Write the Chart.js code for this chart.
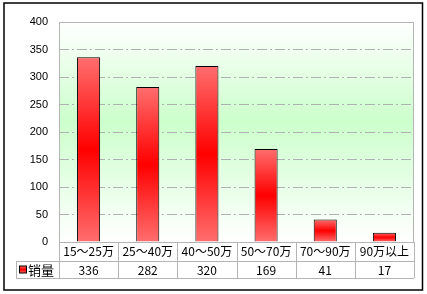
<!DOCTYPE html>
<html>
<head>
<meta charset="utf-8">
<script src="https://cdn.jsdelivr.net/npm/chart.js@4"></script>
<style>
  body { margin: 0; background: #fff; }
  #wrap { width: 427px; height: 294px; }
</style>
</head>
<body>
<div id="wrap"><canvas id="chart" width="427" height="294"></canvas></div>
<script>
// data
const categories = ['15～25万', '25～40万', '40～50万', '50～70万', '70～90万', '90万以上'];
const sales = [336, 282, 320, 169, 41, 17];
const seriesName = '销量';
const yTicks = [0, 50, 100, 150, 200, 250, 300, 350, 400];

const FONT = '"Noto Sans CJK SC", "Liberation Sans", sans-serif';

// plot background + frame, data table below and outer border
const decorations = {
  id: 'decorations',
  beforeDraw(chart) {
    const { ctx, chartArea: a } = chart;
    ctx.save();
    ctx.fillStyle = '#fff';
    ctx.fillRect(0, 0, chart.width, chart.height);
    const g = ctx.createLinearGradient(0, a.top, 0, a.bottom);
    g.addColorStop(0, '#ffffff');
    g.addColorStop(0.45, '#ccffcc');
    g.addColorStop(1, '#ffffff');
    ctx.fillStyle = g;
    ctx.fillRect(a.left, a.top, a.right - a.left, a.bottom - a.top);
    ctx.restore();
  },
  afterDraw(chart) {
    const { ctx, chartArea: a } = chart;
    const x = chart.scales.x;
    const rowTop = a.bottom;
    const rowMid = x.bottom;
    const rowBot = rowMid + 17;
    const legLeft = 16;
    ctx.save();
    ctx.strokeStyle = '#b4b4b4';
    ctx.lineWidth = 1;
    // plot frame
    ctx.strokeRect(a.left + 0.5, a.top + 0.5, a.right - a.left - 1, a.bottom - a.top);
    ctx.beginPath();
    ctx.moveTo(a.left, Math.round(rowTop) + 0.5); ctx.lineTo(a.right, Math.round(rowTop) + 0.5);
    ctx.moveTo(legLeft, Math.round(rowMid) + 0.5); ctx.lineTo(a.right, Math.round(rowMid) + 0.5);
    ctx.moveTo(legLeft, Math.round(rowBot) + 0.5); ctx.lineTo(a.right, Math.round(rowBot) + 0.5);
    ctx.moveTo(legLeft + 0.5, rowMid); ctx.lineTo(legLeft + 0.5, rowBot);
    const step = (a.right - a.left) / categories.length;
    for (let i = 0; i <= categories.length; i++) {
      const px = Math.round(a.left + i * step) + 0.5;
      ctx.moveTo(px, rowTop); ctx.lineTo(px, rowBot);
    }
    ctx.stroke();

    // values row
    ctx.fillStyle = '#000';
    ctx.font = '12px ' + FONT;
    ctx.textAlign = 'center';
    ctx.textBaseline = 'middle';
    sales.forEach((v, i) => {
      ctx.fillText(String(v), x.getPixelForValue(i), (rowMid + rowBot) / 2 + 1);
    });

    // legend key
    const ky = (rowMid + rowBot) / 2;
    const kg = ctx.createLinearGradient(0, ky - 4, 0, ky + 4);
    kg.addColorStop(0, '#ff7272');
    kg.addColorStop(0.5, '#ff0000');
    kg.addColorStop(1, '#ff7272');
    ctx.fillStyle = kg;
    ctx.fillRect(19.5, ky - 3.5, 7, 7);
    ctx.strokeStyle = '#000';
    ctx.strokeRect(19.5, ky - 3.5, 7, 7);
    ctx.fillStyle = '#000';
    ctx.textAlign = 'left';
    ctx.font = '13px ' + FONT;
    ctx.fillText(seriesName, 28, ky + 1);

    // outer border
    ctx.strokeStyle = '#000';
    ctx.lineWidth = 1.5;
    ctx.strokeRect(4, 3, 418.5, 287);
    ctx.restore();
  }
};

function barGradient(c) {
  const chart = c.chart;
  if (!chart.chartArea || c.raw === undefined) return '#ff0000';
  const y = chart.scales.y;
  const top = y.getPixelForValue(c.raw);
  const bot = y.getPixelForValue(0);
  if (!isFinite(top) || bot - top < 1) return '#ff0000';
  const g = chart.ctx.createLinearGradient(0, top, 0, bot);
  g.addColorStop(0, '#ff6e6e');
  g.addColorStop(0.5, '#ff0000');
  g.addColorStop(1, '#ff6e6e');
  return g;
}

new Chart(document.getElementById('chart'), {
  type: 'bar',
  plugins: [decorations],
  data: {
    labels: categories,
    datasets: [{
      label: seriesName,
      data: sales,
      backgroundColor: barGradient,
      borderColor: '#000',
      borderWidth: 1,
      borderSkipped: 'bottom',
      categoryPercentage: 1,
      barPercentage: 0.39
    }]
  },
  options: {
    responsive: false,
    animation: false,
    layout: { padding: { left: 4, top: 22, right: 13, bottom: 33 } },
    plugins: { legend: { display: false }, tooltip: { enabled: false } },
    scales: {
      x: {
        grid: { display: false, drawTicks: false },
        border: { display: false },
        ticks: {
          color: '#000',
          font: { family: FONT, size: 12 },
          padding: 2,
          maxRotation: 0,
          autoSkip: false
        },
        afterFit(s) { s.height = 19; }
      },
      y: {
        min: 0,
        max: 400,
        afterBuildTicks(s) { s.ticks = yTicks.map(v => ({ value: v })); },
        grid: {
          drawTicks: false,
          color: (c) => (c.tick && (c.tick.value === 0 || c.tick.value === 400)) ? 'rgba(0,0,0,0)' : '#b0b0b0'
        },
        border: { display: false, dash: [10, 3, 2, 3] },
        ticks: {
          color: '#000',
          font: { family: '"Liberation Sans", Arial, sans-serif', size: 11 },
          padding: 11
        },
        afterFit(s) { s.width = 55; }
      }
    }
  }
});
</script>
</body>
</html>
